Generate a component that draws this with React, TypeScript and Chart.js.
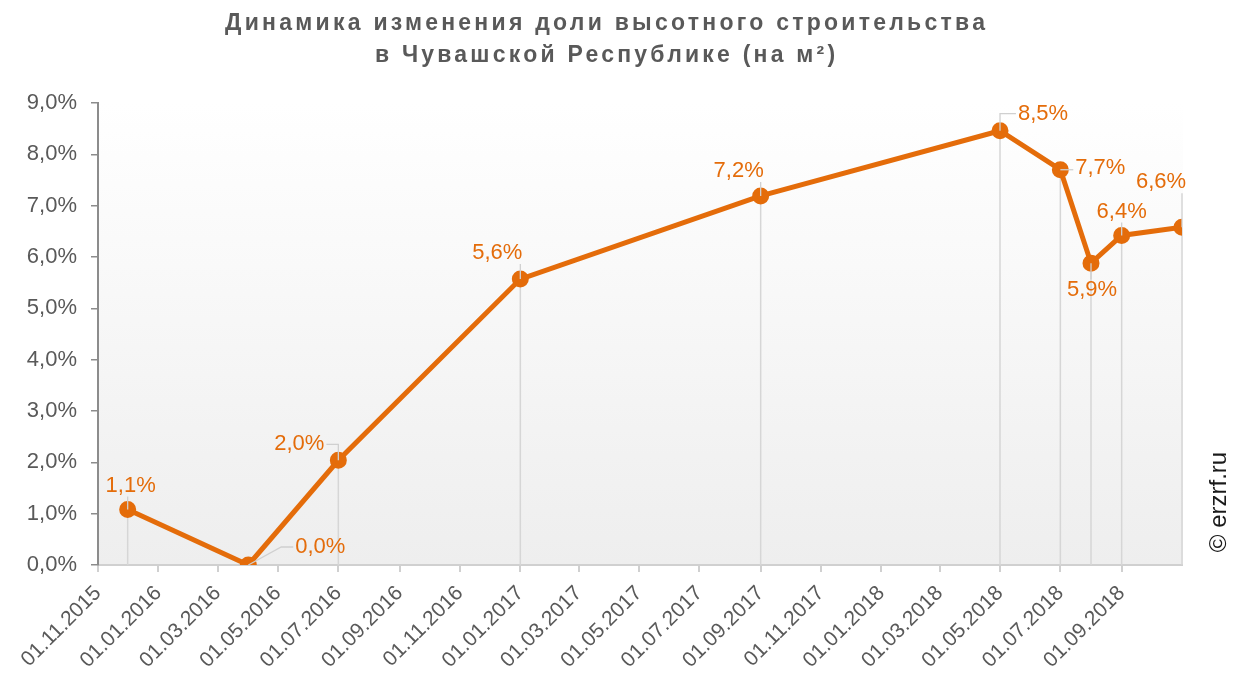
import React, { useEffect, useRef } from "react";
import { Chart, registerables } from "chart.js";

Chart.register(...registerables);

const pointDates = ["01.12.2015", "01.04.2016", "01.07.2016", "01.01.2017", "01.09.2017", "01.05.2018", "01.07.2018", "01.08.2018", "01.09.2018", "01.11.2018"];
const shareValues = [1.08, 0.0, 2.04, 5.57, 7.19, 8.46, 7.7, 5.88, 6.42, 6.58];
const valueLabels = ["1,1%", "0,0%", "2,0%", "5,6%", "7,2%", "8,5%", "7,7%", "5,9%", "6,4%", "6,6%"];
const xTickLabels = ["01.11.2015", "01.01.2016", "01.03.2016", "01.05.2016", "01.07.2016", "01.09.2016", "01.11.2016", "01.01.2017", "01.03.2017", "01.05.2017", "01.07.2017", "01.09.2017", "01.11.2017", "01.01.2018", "01.03.2018", "01.05.2018", "01.07.2018", "01.09.2018"];
const yTicks = [0, 1, 2, 3, 4, 5, 6, 7, 8, 9];
const titleLines = ["Динамика изменения доли высотного строительства", "в Чувашской Республике (на м²)"];

// label offsets (text centre relative to point) and leader styles, style only
const labelOffsets = [[3, -24], [72, -18], [-39, -16], [-23, -26], [-22, -25], [43, -17], [40, -2], [1, 27], [0, -24], [-21, -45]];
const leaderStyles = ["s", "d", "v", "s", "s", "v", "s", "s", "s", "s"];
const titleWidths = [760, 460];

const toMs = (s: string) => {
  const [d, m, y] = s.split(".").map(Number);
  return Date.UTC(y, m - 1, d);
};
const DAY = 86400000;
const toDay = (s: string) => toMs(s) / DAY;

const ORANGE = "#E46C0A";
const GREY_TEXT = "#595959";
const FONT = "'Liberation Sans', Arial, sans-serif";

export default function App() {
  const ref = useRef<HTMLCanvasElement | null>(null);
  useEffect(() => {
    if (!ref.current) return;
    const tickDays = xTickLabels.map(toDay);
    const tickMap = new Map<number, string>();
    tickDays.forEach((v, i) => tickMap.set(v, xTickLabels[i]));

    const decor = {
      id: "decor",
      beforeDatasetsDraw(chart: any) {
        const { ctx, chartArea } = chart;
        ctx.save();
        const g = ctx.createLinearGradient(0, chartArea.top, 0, chartArea.bottom);
        g.addColorStop(0, "#ffffff");
        g.addColorStop(1, "#eeeeee");
        ctx.fillStyle = g;
        ctx.fillRect(chartArea.left + 1, chartArea.top, chartArea.right - chartArea.left, chartArea.bottom - chartArea.top - 1);
        const meta = chart.getDatasetMeta(0);
        ctx.strokeStyle = "#d6d6d6";
        ctx.lineWidth = 1.5;
        meta.data.forEach((p: any) => {
          ctx.beginPath();
          ctx.moveTo(p.x, p.y);
          ctx.lineTo(p.x, chartArea.bottom);
          ctx.stroke();
        });
        ctx.restore();
      },
      afterDatasetsDraw(chart: any) {
        const { ctx } = chart;
        const meta = chart.getDatasetMeta(0);
        ctx.save();
        ctx.font = `22px ${FONT}`;
        ctx.textAlign = "center";
        ctx.textBaseline = "middle";
        meta.data.forEach((p: any, i: number) => {
          const [dx, dy] = labelOffsets[i];
          const tx = p.x + dx;
          const ty = p.y + dy;
          const w = ctx.measureText(valueLabels[i]).width;
          const hw = w / 2 + 2;
          const hh = 11;
          const style = leaderStyles[i];
          ctx.strokeStyle = "#d0d0d0";
          ctx.lineWidth = 1.3;
          if (style === "v") {
            const edgeX = tx > p.x ? tx - hw : tx + hw;
            ctx.beginPath();
            ctx.moveTo(p.x, p.y);
            ctx.lineTo(p.x, ty);
            ctx.lineTo(edgeX, ty);
            ctx.stroke();
          } else if (style === "d") {
            const edgeX = tx - hw;
            ctx.beginPath();
            ctx.moveTo(p.x, p.y);
            ctx.lineTo(edgeX - 12, ty);
            ctx.lineTo(edgeX, ty);
            ctx.stroke();
          } else {
            const ex = Math.max(tx - hw, Math.min(p.x, tx + hw));
            const ey = Math.max(ty - hh, Math.min(p.y, ty + hh));
            const dist = Math.hypot(ex - p.x, ey - p.y);
            if (dist > 10) {
              ctx.beginPath();
              ctx.moveTo(p.x, p.y);
              ctx.lineTo(ex, ey);
              ctx.stroke();
            }
          }
          ctx.fillStyle = ORANGE;
          ctx.fillText(valueLabels[i], tx, ty);
        });
        ctx.restore();
      },
      afterDraw(chart: any) {
        const { ctx } = chart;
        ctx.save();
        ctx.fillStyle = GREY_TEXT;
        ctx.textAlign = "center";
        ctx.textBaseline = "middle";
        ctx.font = `bold 23px ${FONT}`;
        titleLines.forEach((t, i) => {
          ctx.letterSpacing = "0px";
          const w = ctx.measureText(t).width;
          const sp = (titleWidths[i] - w) / Math.max(1, t.length - 1);
          ctx.letterSpacing = `${sp.toFixed(2)}px`;
          ctx.fillText(t, 605 + sp / 2, 24 + i * 32);
        });
        ctx.letterSpacing = "0px";
        ctx.translate(1219, 502);
        ctx.rotate(-Math.PI / 2);
        ctx.font = `24px ${FONT}`;
        ctx.fillStyle = "#1a1a1a";
        ctx.fillText("© erzrf.ru", 0, 0);
        ctx.restore();
      },
    };

    const chart = new Chart(ref.current, {
      type: "line",
      data: {
        datasets: [
          {
            data: pointDates.map((d, i) => ({ x: toDay(d), y: shareValues[i] })),
            borderColor: ORANGE,
            backgroundColor: ORANGE,
            borderWidth: 5,
            pointRadius: 6,
            pointHoverRadius: 6,
            pointBackgroundColor: ORANGE,
            pointBorderColor: ORANGE,
            tension: 0,
          },
        ],
      },
      options: {
        animation: false,
        responsive: false,
        events: [],
        layout: { padding: { left: 0, right: 57, top: 103, bottom: 0 } },
        plugins: { legend: { display: false }, title: { display: false }, tooltip: { enabled: false } },
        scales: {
          x: {
            type: "linear",
            min: toDay("01.11.2015"),
            max: toDay("01.11.2018"),
            afterFit: (s: any) => { s.height = 114; },
            afterBuildTicks: (s: any) => { s.ticks = tickDays.map((v) => ({ value: v })); },
            ticks: {
              autoSkip: false,
              maxRotation: 45,
              minRotation: 45,
              padding: 9,
              color: GREY_TEXT,
              font: { family: FONT, size: 21 },
              callback: (v: any) => tickMap.get(Number(v)) ?? "",
            },
            grid: { display: true, drawOnChartArea: false, drawTicks: true, tickLength: 7, color: "#d0d0d0", lineWidth: 2 },
            border: { display: true, color: "#d0d0d0", width: 2 },
          },
          y: {
            min: 0,
            max: 9,
            afterFit: (s: any) => { s.width = 98; },
            afterBuildTicks: (s: any) => { s.ticks = yTicks.map((v) => ({ value: v })); },
            ticks: {
              color: GREY_TEXT,
              padding: 14,
              font: { family: FONT, size: 22 },
              callback: (v: any) => Number(v).toFixed(1).replace(".", ",") + "%",
            },
            grid: { display: true, drawOnChartArea: false, drawTicks: true, tickLength: 7, color: "#8c8c8c", lineWidth: 1.5 },
            border: { display: true, color: "#8c8c8c", width: 2 },
          },
        },
      },
      plugins: [decor],
    });
    return () => chart.destroy();
  }, []);

  return (
    <div style={{ position: "fixed", left: 0, top: 0, width: 1239, height: 679, background: "#fff" }}>
      <canvas ref={ref} width={1239} height={679} style={{ width: 1239, height: 679 }} />
    </div>
  );
}
